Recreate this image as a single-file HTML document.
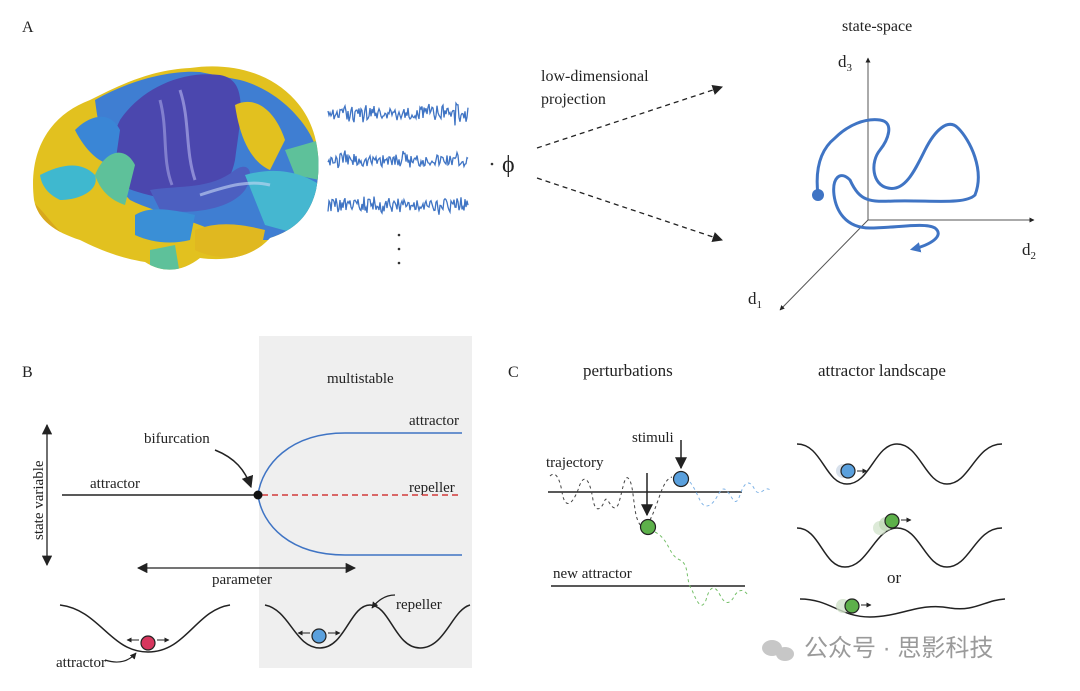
<!DOCTYPE html>
<html><head><meta charset="utf-8"><style>
html,body{margin:0;padding:0;background:#fff;}
svg{display:block;font-family:"Liberation Serif",serif;}
</style></head><body>
<svg id="s" width="1080" height="691" viewBox="0 0 1080 691" xmlns="http://www.w3.org/2000/svg">
<defs>
<marker id="ah" viewBox="0 0 10 10" refX="9" refY="5" markerWidth="8" markerHeight="8" orient="auto-start-reverse"><path d="M0,0 L10,5 L0,10 z" fill="#222"/></marker>
<marker id="ahb" viewBox="0 0 10 10" refX="7" refY="5" markerWidth="3.5" markerHeight="3.5" orient="auto"><path d="M0,0 L10,5 L0,10 z" fill="#3f74c4"/></marker>
<marker id="ahs" viewBox="0 0 10 10" refX="9" refY="5" markerWidth="5" markerHeight="5" orient="auto"><path d="M0,0 L10,5 L0,10 z" fill="#222"/></marker>
<clipPath id="bc"><path d="M34,200 C28,150 50,115 90,100 C120,85 150,70 190,68 C230,62 270,72 295,100 C318,125 322,160 316,190 C310,215 295,230 270,238 C255,255 230,262 200,258 C185,270 165,275 145,262 C120,258 100,250 80,240 C55,232 38,220 34,200Z"/></clipPath>
</defs>
<g font-size="16" fill="#222">
<text x="22" y="32">A</text>
<text x="22" y="377">B</text>
<text x="508" y="377">C</text>
</g>
<!-- brain -->
<g clip-path="url(#bc)">
<rect x="20" y="50" width="320" height="240" fill="#e2c11f"/>
<path d="M95,100 C130,80 170,70 200,72 L240,80 C280,90 320,130 320,170 L320,240 L230,240 C200,220 160,215 130,200 C110,180 100,140 95,100Z" fill="#3f7ed2"/>
<path d="M120,120 C140,90 180,70 220,75 C250,80 240,120 235,160 C230,185 215,200 200,205 C170,200 140,195 120,185 C110,160 110,140 120,120Z" fill="#4b47ae"/>
<path d="M150,190 C180,185 210,190 235,170 C250,160 255,175 245,190 C230,210 190,215 160,210Z" fill="#4c5fc0"/>
<path d="M40,175 C60,165 80,160 95,175 C100,190 80,200 60,200 C50,195 42,188 40,175Z" fill="#3fb8cf"/>
<path d="M75,130 C90,115 110,110 120,130 L115,165 C100,165 85,150 75,130Z" fill="#3a86d6"/>
<path d="M95,175 C105,150 125,145 135,165 L125,205 C110,200 100,190 95,175Z" fill="#5ec19a"/>
<path d="M235,105 C255,95 275,110 285,140 L270,170 C252,162 240,140 235,105Z" fill="#e2c11f"/>
<path d="M285,150 L320,140 L320,180 L295,175Z" fill="#5ec19a"/>
<path d="M245,175 C280,165 305,175 320,185 L320,240 L265,225Z" fill="#45b7d0"/>
<path d="M135,215 C150,205 175,210 195,215 L190,240 C170,245 150,242 135,235Z" fill="#3a8fd6"/>
<path d="M195,230 C220,220 245,225 265,230 L260,255 C235,260 210,258 195,250Z" fill="#e0b820"/>
<path d="M150,250 L175,245 L180,275 L150,275Z" fill="#5ec19a"/>
<path d="M30,200 C40,205 55,230 70,240 L30,240Z" fill="#d8a81c"/>
<path d="M180,90 C190,120 185,150 195,180" stroke="#b8b8ee" stroke-width="3" fill="none" opacity=".6"/>
<path d="M160,100 C168,130 162,160 172,185" stroke="#b8b8ee" stroke-width="3" fill="none" opacity=".5"/>
<path d="M200,195 C230,185 250,180 270,185" stroke="#c8d8f5" stroke-width="3" fill="none" opacity=".6"/>
</g>
<!-- signals -->
<g id="sig" fill="none" stroke="#3f74c4" stroke-width="1.3"></g>
<g fill="#333"><circle cx="399" cy="235" r="1.3"/><circle cx="399" cy="249" r="1.3"/><circle cx="399" cy="263" r="1.3"/><circle cx="492" cy="164" r="1.3"/></g>
<text x="502" y="172" font-size="24" fill="#222">ϕ</text>
<text x="541" y="81" font-size="16" fill="#222">low-dimensional</text>
<text x="541" y="104" font-size="16" fill="#222">projection</text>
<line x1="537" y1="148" x2="722" y2="87" stroke="#222" stroke-width="1.3" stroke-dasharray="5,4" marker-end="url(#ah)"/>
<line x1="537" y1="178" x2="722" y2="240" stroke="#222" stroke-width="1.3" stroke-dasharray="5,4" marker-end="url(#ah)"/>
<!-- state space -->
<text x="842" y="31" font-size="16" fill="#222">state-space</text>
<g stroke="#555" stroke-width="1" fill="none">
<line x1="868" y1="220" x2="868" y2="58" marker-end="url(#ahs)"/>
<line x1="868" y1="220" x2="1034" y2="220" marker-end="url(#ahs)"/>
<line x1="868" y1="220" x2="780" y2="310" marker-end="url(#ahs)"/>
</g>
<g font-size="17" fill="#222"><text x="838" y="67">d<tspan font-size="11" dy="4">3</tspan></text>
<text x="1022" y="255">d<tspan font-size="11" dy="4">2</tspan></text>
<text x="748" y="304">d<tspan font-size="11" dy="4">1</tspan></text></g>
<path d="M818,195 C815,170 820,150 835,138 C848,125 865,118 880,120 C895,122 888,140 880,150 C870,162 872,185 888,188 C905,192 915,170 925,150 C935,130 948,118 958,128 C970,140 985,170 975,195 C965,205 930,200 895,201 C870,202 860,202 850,180 C840,170 832,178 834,195 C836,210 845,228 870,228 C895,228 925,222 935,228 C945,236 930,245 913,249" fill="none" stroke="#3f74c4" stroke-width="3" marker-end="url(#ahb)"/>
<circle cx="818" cy="195" r="6" fill="#3f74c4"/>
<!-- panel B -->
<rect x="259" y="336" width="213" height="332" fill="#efefef"/>
<g font-size="15" fill="#222">
<text x="327" y="383">multistable</text>
<text x="409" y="425">attractor</text>
<text x="409" y="492">repeller</text>
<text x="90" y="488">attractor</text>
<text x="144" y="443">bifurcation</text>
<text x="212" y="584">parameter</text>
<text x="396" y="609">repeller</text>
<text x="56" y="667">attractor</text>
<text transform="translate(43,540) rotate(-90)">state variable</text>
</g>
<line x1="47" y1="425" x2="47" y2="565" stroke="#222" stroke-width="1.3" marker-end="url(#ah)" marker-start="url(#ah)"/>
<line x1="138" y1="568" x2="355" y2="568" stroke="#222" stroke-width="1.3" marker-end="url(#ah)" marker-start="url(#ah)"/>
<line x1="62" y1="495" x2="258" y2="495" stroke="#222" stroke-width="1.5"/>
<line x1="262" y1="495" x2="462" y2="495" stroke="#d23a3a" stroke-width="1.5" stroke-dasharray="6,4"/>
<path d="M462,433 L345,433 C290,433 262,465 258,495 C262,525 290,555 345,555 L462,555" fill="none" stroke="#3f74c4" stroke-width="1.5"/>
<circle cx="258" cy="495" r="4.5" fill="#111"/>
<path d="M215,450 C235,458 245,470 251,487" fill="none" stroke="#222" stroke-width="1.5" marker-end="url(#ah)"/>
<path d="M60,605 C100,610 110,652 148,652 C186,652 196,610 230,605" fill="none" stroke="#222" stroke-width="1.5"/>
<circle cx="148" cy="643" r="7" fill="#d7365e" stroke="#222" stroke-width="1.2"/>
<g stroke="#222" stroke-width="1" marker-end="url(#ahs)"><line x1="139" y1="640" x2="127" y2="640"/><line x1="157" y1="640" x2="169" y2="640"/><line x1="310" y1="633" x2="298" y2="633"/><line x1="328" y1="633" x2="340" y2="633"/></g>
<path d="M105,660 C120,665 130,660 136,653" fill="none" stroke="#222" stroke-width="1.3" marker-end="url(#ahs)"/>
<path d="M265,605 C290,610 295,648 320,648 C345,648 350,605 370,605 C390,605 395,648 420,648 C445,648 452,610 470,605" fill="none" stroke="#222" stroke-width="1.5"/>
<circle cx="319" cy="636" r="7" fill="#5aa0dd" stroke="#222" stroke-width="1.2"/>
<path d="M395,595 C385,595 378,600 372,608" fill="none" stroke="#222" stroke-width="1.3" marker-end="url(#ahs)"/>
<!-- panel C -->
<g font-size="17" fill="#222">
<text x="583" y="376">perturbations</text>
<text x="818" y="376">attractor landscape</text>
</g>
<g font-size="15" fill="#222">
<text x="632" y="442">stimuli</text>
<text x="546" y="467">trajectory</text>
<text x="553" y="578">new attractor</text>
<text x="887" y="583" font-size="17">or</text>
</g>
<line x1="548" y1="492" x2="742" y2="492" stroke="#222" stroke-width="1.5"/>
<line x1="551" y1="586" x2="745" y2="586" stroke="#222" stroke-width="1.5"/>
<path d="M550,476 C556,470 560,480 562,492 C565,510 572,505 578,490 C584,470 590,480 593,500 C596,515 602,508 605,500 C608,495 612,515 618,505 C622,495 624,475 628,478 C633,482 633,500 636,515 C640,530 645,528 648,524 M650,520 C660,500 662,480 672,477" fill="none" stroke="#444" stroke-width="1" stroke-dasharray="3,3"/>
<path d="M690,482 C700,495 700,510 710,505 C718,500 720,485 726,490 C732,495 735,510 740,495 C745,480 750,480 755,490 C760,498 765,485 770,490" fill="none" stroke="#7fb3e6" stroke-width="1" stroke-dasharray="3,3"/>
<path d="M655,532 C670,540 668,555 680,560 C690,565 685,580 692,590 C698,605 702,610 706,600 C710,585 715,585 720,595 C725,605 730,605 735,595 C740,588 744,590 748,595" fill="none" stroke="#76c06a" stroke-width="1" stroke-dasharray="3,3"/>
<line x1="681" y1="440" x2="681" y2="468" stroke="#222" stroke-width="1.5" marker-end="url(#ah)"/>
<line x1="647" y1="473" x2="647" y2="515" stroke="#222" stroke-width="1.5" marker-end="url(#ah)"/>
<circle cx="681" cy="479" r="7.5" fill="#5aa0dd" stroke="#222" stroke-width="1.2"/>
<circle cx="648" cy="527" r="7.5" fill="#5db04a" stroke="#222" stroke-width="1.2"/>
<g fill="none" stroke="#222" stroke-width="1.5">
<path d="M797,444 C822,444 825,484 847,484 C870,484 875,444 897,444 C920,444 925,484 947,484 C970,484 975,444 1002,444"/>
<path d="M797,528 C820,528 823,567 845,567 C868,567 875,528 897,528 C920,528 925,567 947,567 C970,567 975,528 1002,528"/>
<path d="M800,599 C830,599 840,617 870,617 C900,617 920,602 950,608 C975,612 985,600 1005,599"/>
</g>
<circle cx="843" cy="471" r="7" fill="#c8d4e4" opacity=".7"/>
<circle cx="848" cy="471" r="7" fill="#5aa0dd" stroke="#222" stroke-width="1.2"/>
<circle cx="880" cy="528" r="7" fill="#cfe1c8" opacity=".7"/><circle cx="886" cy="524" r="7" fill="#bcd6b3" opacity=".7"/>
<circle cx="892" cy="521" r="7" fill="#5db04a" stroke="#222" stroke-width="1.2"/>
<circle cx="843" cy="606" r="7" fill="#cfe1c8" opacity=".8"/>
<circle cx="852" cy="606" r="7" fill="#5db04a" stroke="#222" stroke-width="1.2"/>
<g stroke="#222" stroke-width="1" marker-end="url(#ahs)"><line x1="857" y1="471" x2="867" y2="471"/><line x1="901" y1="520" x2="911" y2="520"/><line x1="861" y1="605" x2="871" y2="605"/></g>
<!-- watermark -->
<g opacity=".55"><ellipse cx="772" cy="648" rx="10" ry="8" fill="#9a9a9a"/><ellipse cx="785" cy="654" rx="9" ry="7" fill="#9a9a9a"/></g>
<text x="804" y="656" font-size="24" fill="#9a9a9a" font-family="'Liberation Sans','Noto Sans CJK SC',sans-serif">公众号 · 思影科技</text>
</svg>
<script>
var g=document.getElementById('sig');
var ys=[113,160,205];
for(var k=0;k<3;k++){var d='';var seed=k*7+1;
for(var i=0;i<=140;i++){var x=328+i;seed=(seed*9301+49297)%233280;var r=seed/233280-0.5;
var amp=4+4*Math.abs(Math.sin(i*0.05+k));if(k==0&&i>125)amp=11;
var y=ys[k]+r*2*amp+Math.sin(i*1.3+k)*2;d+=(i?'L':'M')+x+','+y.toFixed(1);}
var p=document.createElementNS('http://www.w3.org/2000/svg','path');p.setAttribute('d',d);g.appendChild(p);}
</script>
</body></html>
